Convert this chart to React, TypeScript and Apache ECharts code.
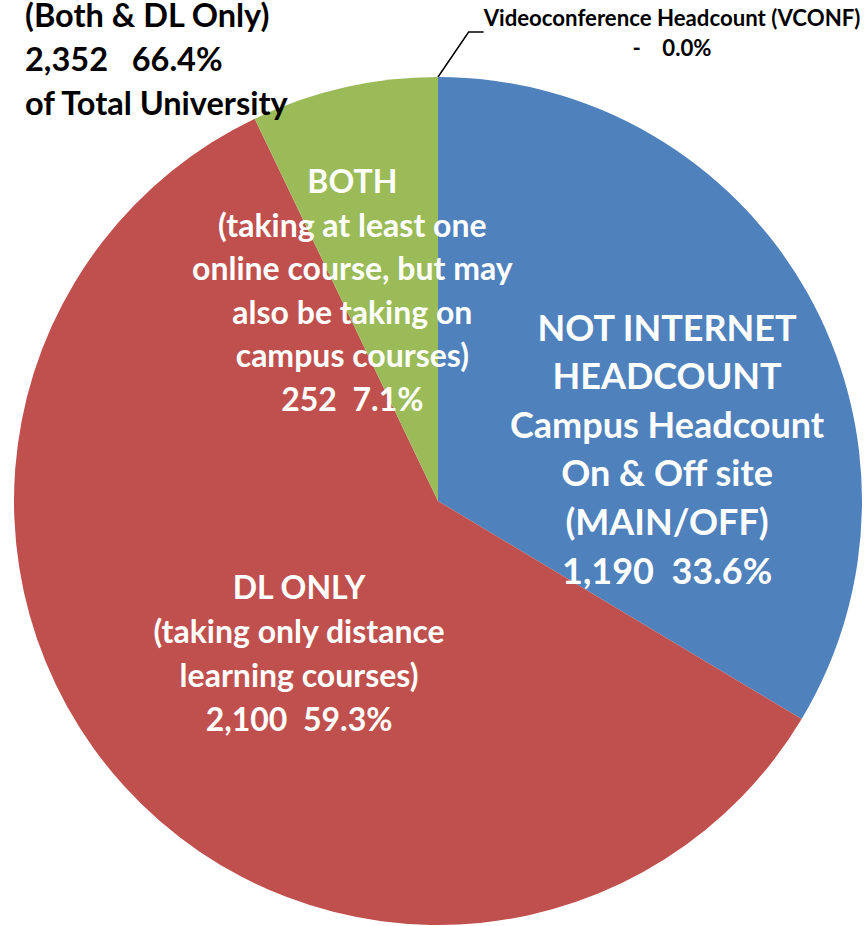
import React, { useEffect, useRef } from "react";
import * as echarts from "echarts";

const categories = [
  "NOT INTERNET\nHEADCOUNT\nCampus Headcount\nOn & Off site\n(MAIN/OFF)",
  "DL ONLY\n(taking only distance\nlearning courses)",
  "BOTH\n(taking at least one\nonline course, but may\nalso be taking on\ncampus courses)",
  "Videoconference Headcount (VCONF)",
];
const values = [1190, 2100, 252, 0];
const colors = ["#4F81BD", "#C0504D", "#9BBB59", "#8064A2"];
const titleLines = ["(Both & DL Only)", "of Total University"];

const FONT = "Lato, 'Noto Sans', sans-serif";

function fmtNum(v: number): string {
  return v === 0 ? "-" : v.toLocaleString("en-US");
}

export default function App() {
  const ref = useRef<HTMLDivElement>(null);
  useEffect(() => {
    if (!ref.current) return;
    const chart = echarts.init(ref.current, undefined, { renderer: "svg" });
    const total = values.reduce((a, b) => a + b, 0);
    const pct = (v: number) => ((v / total) * 100).toFixed(1) + "%";
    const online = values[1] + values[2];

    const offsets: number[][] = [[42, 53], [20, 7], [-38, -2], [0, 0]];
    const sizes = [36, 32, 32, 22.2];
    const lineHeights = [48.6, 44, 43.5, 30];

    const data = categories.map((name, i) => {
      const isOutside = i === 3;
      return {
        name,
        value: values[i],
        itemStyle: { color: colors[i] },
        label: isOutside
          ? {
              position: "outside",
              color: "#000",
              fontSize: sizes[i],
              lineHeight: lineHeights[i],
              fontWeight: "bold",
              fontFamily: FONT,
              align: "center",
              formatter: (p: any) => `${p.name}\n${fmtNum(p.value)}    ${pct(p.value)}`,
            }
          : {
              position: "inside",
              color: "#fff",
              fontSize: sizes[i],
              lineHeight: lineHeights[i],
              fontWeight: "bold",
              fontFamily: FONT,
              offset: offsets[i],
              formatter: (p: any) => `${p.name}\n${fmtNum(p.value)}  ${pct(p.value)}`,
            },
        labelLine: isOutside
          ? { show: true, length: 50, length2: 15, lineStyle: { color: "#000", width: 1.5 } }
          : { show: false },
      };
    });

    chart.setOption({
      animation: false,
      backgroundColor: "#fff",
      title: {
        text: `${titleLines[0]}\n${fmtNum(online)}   ${pct(online)}\n${titleLines[1]}`,
        left: 20,
        top: -13,
        textStyle: {
          fontFamily: FONT,
          fontWeight: "bold",
          fontSize: 32.5,
          lineHeight: 44,
          color: "#000",
        },
      },
      series: [
        {
          type: "pie",
          center: [438, 501],
          radius: 424,
          startAngle: 90,
          clockwise: true,
          avoidLabelOverlap: false,
          minShowLabelAngle: 0,
          silent: true,
          data,
          labelLayout: (params: any) =>
            params.dataIndex === 3
              ? { x: 672, y: 32, align: "center", verticalAlign: "middle" }
              : {},
        },
      ],
    });
    return () => chart.dispose();
  }, []);
  return (
    <div
      ref={ref}
      style={{ position: "fixed", left: 0, top: 0, width: 865, height: 926 }}
    />
  );
}
